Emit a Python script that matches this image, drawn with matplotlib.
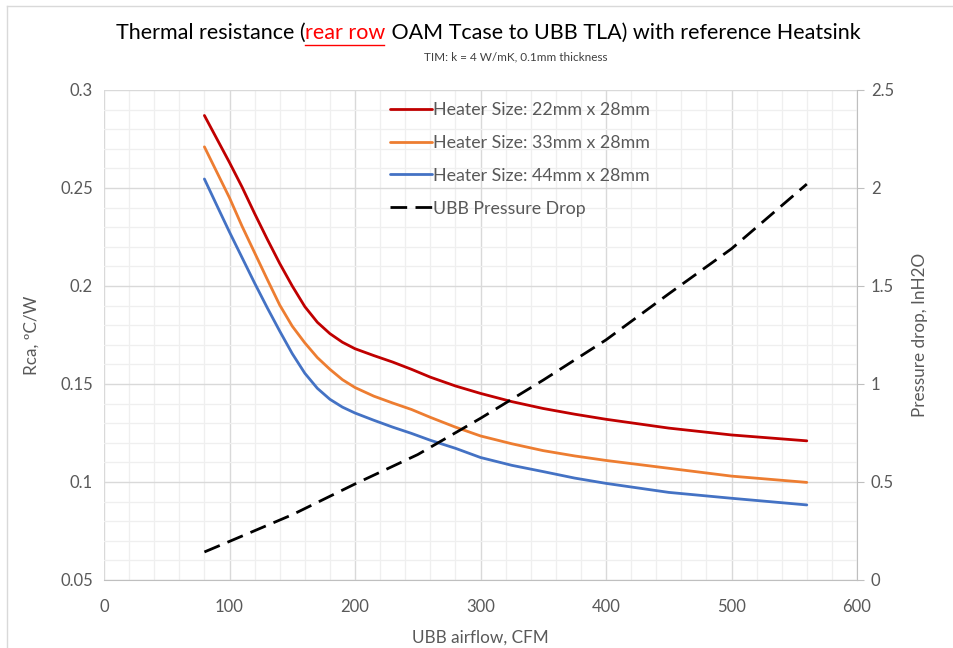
import matplotlib.pyplot as plt
from matplotlib.lines import Line2D
from matplotlib.ticker import MultipleLocator

plt.rcParams['font.family'] = ['Lato', 'DejaVu Sans']

# values
airflow = [80, 90, 100, 110, 120, 130, 140, 150, 160, 170, 180, 190, 200,
           215, 230, 245, 260, 280, 300, 325, 350, 375, 400, 450, 500, 560]
rca_22 = [0.287, 0.275, 0.263, 0.2505, 0.237, 0.224, 0.2115, 0.200, 0.1895,
          0.1815, 0.1757, 0.1713, 0.168, 0.1645, 0.1612, 0.1575, 0.1535,
          0.149, 0.1452, 0.141, 0.1375, 0.1346, 0.132, 0.1275, 0.124, 0.121]
rca_33 = [0.271, 0.258, 0.245, 0.2305, 0.217, 0.2035, 0.1903, 0.1795, 0.171,
          0.1635, 0.1575, 0.1522, 0.1482, 0.1438, 0.1403, 0.137, 0.133,
          0.128, 0.1235, 0.1195, 0.116, 0.1133, 0.111, 0.107, 0.103, 0.0998]
rca_44 = [0.2546, 0.241, 0.2275, 0.2145, 0.2015, 0.189, 0.177, 0.1655,
          0.1555, 0.1478, 0.1422, 0.1382, 0.1352, 0.1315, 0.128, 0.1248,
          0.1213, 0.1172, 0.1125, 0.1085, 0.1053, 0.102, 0.0993, 0.0947,
          0.0917, 0.0883]

dp_airflow = [80, 100, 150, 200, 250, 300, 350, 400, 450, 500, 560]
pressure_drop = [0.143, 0.197, 0.333, 0.49, 0.64, 0.825, 1.02, 1.225, 1.46,
                 1.69, 2.02]

labels = ["Heater Size: 22mm x 28mm", "Heater Size: 33mm x 28mm",
          "Heater Size: 44mm x 28mm", "UBB Pressure Drop"]

grey_txt = '#595959'

fig = plt.figure(figsize=(9.54, 6.48), dpi=100)
ax = fig.add_axes([104 / 954, 1 - 580 / 648, 753 / 954, 490 / 648])
ax2 = ax.twinx()

l1, = ax.plot(airflow, rca_22, color='#C00000', lw=2, solid_capstyle='round',
              solid_joinstyle='round')
l2, = ax.plot(airflow, rca_33, color='#ED7D31', lw=2, solid_capstyle='round',
              solid_joinstyle='round')
l3, = ax.plot(airflow, rca_44, color='#4472C4', lw=2, solid_capstyle='round',
              solid_joinstyle='round')
l4, = ax2.plot(dp_airflow, pressure_drop, color='black', lw=2,
               dashes=(6, 3))

ax.set_xlim(0, 600)
ax.set_ylim(0.05, 0.3)
ax2.set_ylim(0, 2.5)

ax.xaxis.set_major_locator(MultipleLocator(100))
ax.xaxis.set_minor_locator(MultipleLocator(20))
ax.yaxis.set_major_locator(MultipleLocator(0.05))
ax.yaxis.set_minor_locator(MultipleLocator(0.01))
ax2.yaxis.set_major_locator(MultipleLocator(0.5))
ax.yaxis.set_major_formatter(lambda v, p: f"{v:g}")
ax2.yaxis.set_major_formatter(lambda v, p: f"{v:g}")

ax.grid(which='major', color='#d9d9d9', lw=1)
ax.grid(which='minor', color='#efefef', lw=0.9)
ax.set_axisbelow(True)

for a in (ax, ax2):
    for s in ('top', 'left'):
        a.spines[s].set_visible(False)
ax2.spines['bottom'].set_visible(False)
ax.spines['right'].set_visible(False)
ax.spines['bottom'].set_color('#bfbfbf')
ax2.spines['right'].set_color('#bfbfbf')

ax.tick_params(axis='y', which='both', length=0, labelsize=12,
               labelcolor=grey_txt, pad=8)
ax.tick_params(axis='x', which='both', length=0, labelsize=12,
               labelcolor=grey_txt, pad=13.5)
ax2.tick_params(which='both', length=5, color='#bfbfbf', labelsize=12,
                labelcolor=grey_txt, pad=5)

ax.set_xlabel("UBB airflow, CFM", fontsize=12.3, color=grey_txt,
              labelpad=11)
ax.set_ylabel("Rca, ºC/W", fontsize=12.3, color=grey_txt, labelpad=15)
ax2.set_ylabel("Pressure drop, InH2O", fontsize=12.3, color=grey_txt,
               labelpad=13)

ax.legend([l1, l2, l3, l4], labels, loc='upper left',
          bbox_to_anchor=(381 / 954, 1 - 93 / 648),
          bbox_transform=fig.transFigure, frameon=False, fontsize=12.8,
          borderpad=0, handlelength=2.35, handletextpad=0.1,
          labelspacing=0.95, labelcolor=grey_txt)

# title with the red underlined part
renderer = fig.canvas.get_renderer()
fig_w = fig.bbox.width
title_kw = dict(fontsize=15.5, va='center', ha='left')


def text_width(s):
    t = fig.text(0, 0, s, **title_kw)
    w = t.get_window_extent(renderer).width
    t.remove()
    return w / fig_w


part1 = "Thermal resistance ("
part2 = "rear row"
part3 = " OAM Tcase to UBB TLA) with reference Heatsink"
total = text_width(part1 + part2 + part3)
x0 = 488 / 954 - total / 2
ty = 1 - 33 / 648
x1 = x0 + text_width(part1)
x2 = x0 + text_width(part1 + part2)
fig.text(x0, ty, part1, color='black', **title_kw)
fig.text(x1, ty, part2, color='red', **title_kw)
fig.text(x2, ty, part3, color='black', **title_kw)
fig.add_artist(Line2D([x1, x2 - 0.002], [1 - 45 / 648, 1 - 45 / 648],
                      transform=fig.transFigure, color='red', lw=1))

fig.text(516 / 954, 1 - 57 / 648, "TIM: k = 4 W/mK, 0.1mm thickness",
         fontsize=8.5, ha='center', va='center', color='#404040')

# chart area border
fig.add_artist(Line2D([7 / 954, 7 / 954], [0, 1 - 6 / 648],
                      transform=fig.transFigure, color='#d9d9d9', lw=1))
fig.add_artist(Line2D([7 / 954, 1], [1 - 6 / 648, 1 - 6 / 648],
                      transform=fig.transFigure, color='#d9d9d9', lw=1))

fig.savefig('out.png', dpi=100)
